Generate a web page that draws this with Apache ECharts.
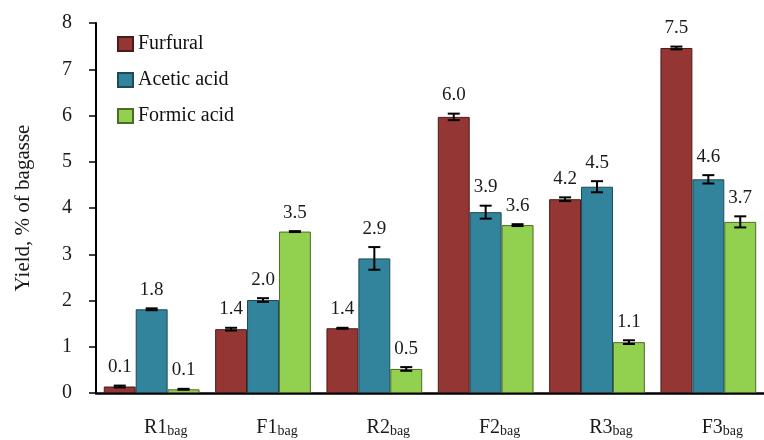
<!DOCTYPE html>
<html>
<head>
<meta charset="utf-8">
<script src="https://cdn.jsdelivr.net/npm/echarts@6/dist/echarts.min.js"></script>
<style>html,body{margin:0;padding:0;background:#fff}#c{width:764px;height:440px}</style>
</head>
<body>
<div id="c"></div>
<script>
var categories = ['R1', 'F1', 'R2', 'F2', 'R3', 'F3'];
var subscript = 'bag';
var seriesNames = ['Furfural', 'Acetic acid', 'Formic acid'];
var furfural = [0.14, 1.38, 1.40, 5.97, 4.19, 7.46];
var furfuralErr = [0.02, 0.03, 0.01, 0.07, 0.04, 0.03];
var acetic = [1.81, 2.01, 2.91, 3.91, 4.46, 4.62];
var aceticErr = [0.02, 0.04, 0.245, 0.14, 0.12, 0.09];
var formic = [0.08, 3.49, 0.52, 3.63, 1.10, 3.70];
var formicErr = [0.01, 0.01, 0.04, 0.02, 0.04, 0.12];
var yTicks = [0, 1, 2, 3, 4, 5, 6, 7, 8];

var colors = ['#943634', '#31849b', '#92d050'];
var borders = ['#4a1a19', '#1c4a57', '#4f6a28'];
var FONT = '"Liberation Serif", "DejaVu Serif", serif';
var catGap = 0.14;

var values = [furfural, acetic, formic];
var errs = [furfuralErr, aceticErr, formicErr];

var series = [];
values.forEach(function (vals, s) {
  series.push({
    name: seriesNames[s],
    type: 'bar',
    data: vals,
    barGap: '0%',
    barCategoryGap: (catGap * 100) + '%',
    itemStyle: { color: colors[s], borderColor: borders[s], borderWidth: 1 },
    z: 2
  });
});
values.forEach(function (vals, s) {
  series.push({
    name: 'err' + s,
    type: 'custom',
    z: 5,
    data: vals.map(function (v, i) { return [i, v, errs[s][i]]; }),
    renderItem: function (params, api) {
      var idx = api.value(0), v = api.value(1), e = api.value(2);
      var band = api.size([1, 0])[0];
      var bw = band * (1 - catGap) / 3;
      var x = api.coord([idx, v])[0] + (s - 1) * bw;
      var yT = api.coord([idx, v + e])[1];
      var yB = api.coord([idx, v - e])[1];
      var cap = 6;
      var st = { stroke: '#000', lineWidth: 2 };
      return {
        type: 'group',
        children: [
          { type: 'line', shape: { x1: x, y1: yT, x2: x, y2: yB }, style: st },
          { type: 'line', shape: { x1: x - cap, y1: yT, x2: x + cap, y2: yT }, style: st },
          { type: 'line', shape: { x1: x - cap, y1: yB, x2: x + cap, y2: yB }, style: st },
          { type: 'text', style: { x: x, y: yT - 9, text: v.toFixed(1), textAlign: 'center', textVerticalAlign: 'bottom', font: '19px ' + FONT, fill: '#1a1a1a' } }
        ]
      };
    }
  });
});

var chart = echarts.init(document.getElementById('c'));
chart.setOption({
  animation: false,
  backgroundColor: '#fff',
  textStyle: { fontFamily: FONT },
  grid: { left: 96, right: -6, top: 23, bottom: 47 },
  legend: {
    data: seriesNames,
    orient: 'vertical',
    left: 117,
    top: 34,
    padding: 0,
    itemWidth: 15,
    itemHeight: 14,
    itemGap: 16,
    icon: 'rect',
    textStyle: { fontFamily: FONT, fontSize: 20, color: '#111' }
  },
  xAxis: {
    type: 'category',
    data: categories,
    axisLine: { lineStyle: { color: '#000', width: 2.5 } },
    axisTick: { show: false },
    axisLabel: {
      margin: 23,
      formatter: function (v) { return '{a|' + v + '}{b|' + subscript + '}'; },
      rich: {
        a: { fontFamily: FONT, fontSize: 20, color: '#1a1a1a', padding: [0, 0, 0, 28], verticalAlign: 'bottom', lineHeight: 22 },
        b: { fontFamily: FONT, fontSize: 14, color: '#1a1a1a', verticalAlign: 'bottom', lineHeight: 22, padding: [4, 0, 0, 0] }
      }
    }
  },
  yAxis: {
    type: 'value',
    min: yTicks[0],
    max: yTicks[yTicks.length - 1],
    interval: 1,
    name: 'Yield, % of bagasse',
    nameLocation: 'middle',
    nameGap: 62,
    nameTextStyle: { fontFamily: FONT, fontSize: 21, color: '#1a1a1a' },
    axisLine: { show: true, lineStyle: { color: '#000', width: 2 } },
    axisTick: { show: true, length: 7, lineStyle: { color: '#000', width: 1.5 } },
    splitLine: { show: false },
    axisLabel: { margin: 24, fontFamily: FONT, fontSize: 20, color: '#1a1a1a' }
  },
  series: series
});
</script>
</body>
</html>
